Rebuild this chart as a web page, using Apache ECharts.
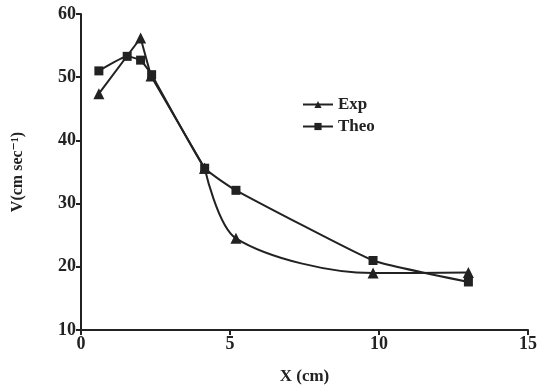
<!DOCTYPE html>
<html>
<head>
<meta charset="utf-8">
<script src="https://cdn.jsdelivr.net/npm/echarts@6/dist/echarts.min.js"></script>
<style>
  html, body { margin: 0; padding: 0; background: #fff; }
  #chart { width: 540px; height: 390px; }
</style>
</head>
<body>
<div id="chart"></div>
<script>
// values: [X (cm), V (cm/s)]
const expData = [[0.6, 47.4], [2.0, 56.2], [2.35, 50.2], [4.15, 35.6], [5.2, 24.5], [9.8, 19.0], [13.0, 19.1]];
const theoData = [[0.6, 51.0], [1.55, 53.3], [2.0, 52.7], [2.37, 50.4], [4.15, 35.6], [5.2, 32.1], [9.8, 21.0], [13.0, 17.6]];
const seriesNames = ['Exp', 'Theo'];

const ink = '#222';
const serif = '"Liberation Serif", "DejaVu Serif", serif';

const chart = echarts.init(document.getElementById('chart'));

// the experimental curve is drawn straight up to x≈4 and as a spline after that
const lineBase = {
  type: 'line',
  lineStyle: { color: ink, width: 2 },
  itemStyle: { color: ink }
};

chart.setOption({
  animation: false,
  backgroundColor: '#fff',
  grid: { left: 81, right: 12, top: 14, bottom: 55 },
  legend: {
    orient: 'vertical',
    left: 297,
    top: 91,
    itemWidth: 30,
    itemHeight: 9,
    itemGap: 5,
    data: seriesNames,
    textStyle: { fontFamily: serif, fontWeight: 'bold', fontSize: 17, color: ink }
  },
  xAxis: {
    type: 'value',
    min: 0, max: 15, interval: 5,
    name: 'X (cm)',
    nameLocation: 'middle',
    nameGap: 38,
    nameTextStyle: { fontFamily: serif, fontWeight: 'bold', fontSize: 17, color: ink },
    axisLine: { lineStyle: { color: ink, width: 2 } },
    axisTick: { length: 5, lineStyle: { color: ink, width: 2 } },
    axisLabel: { fontFamily: serif, fontWeight: 'bold', fontSize: 18, color: ink, margin: 5 },
    splitLine: { show: false }
  },
  yAxis: {
    type: 'value',
    min: 10, max: 60, interval: 10,
    name: 'V(cm sec⁻¹)',
    nameLocation: 'middle',
    nameGap: 55,
    nameTextStyle: { fontFamily: serif, fontWeight: 'bold', fontSize: 16, color: ink },
    axisLine: { show: true, lineStyle: { color: ink, width: 2 } },
    axisTick: { show: true, length: 5, lineStyle: { color: ink, width: 2 } },
    axisLabel: { fontFamily: serif, fontWeight: 'bold', fontSize: 18, color: ink, margin: 5 },
    splitLine: { show: false }
  },
  series: [
    Object.assign({}, lineBase, {
      name: 'Exp',
      data: expData.slice(0, 4),
      smooth: false,
      symbol: 'triangle',
      symbolSize: 11
    }),
    Object.assign({}, lineBase, {
      name: 'Exp',
      data: expData.slice(3),
      smooth: 0.3,
      symbol: 'triangle',
      symbolSize: 11
    }),
    Object.assign({}, lineBase, {
      name: 'Theo',
      data: theoData,
      smooth: 0.12,
      symbol: 'rect',
      symbolSize: 9
    })
  ]
});
</script>
</body>
</html>
